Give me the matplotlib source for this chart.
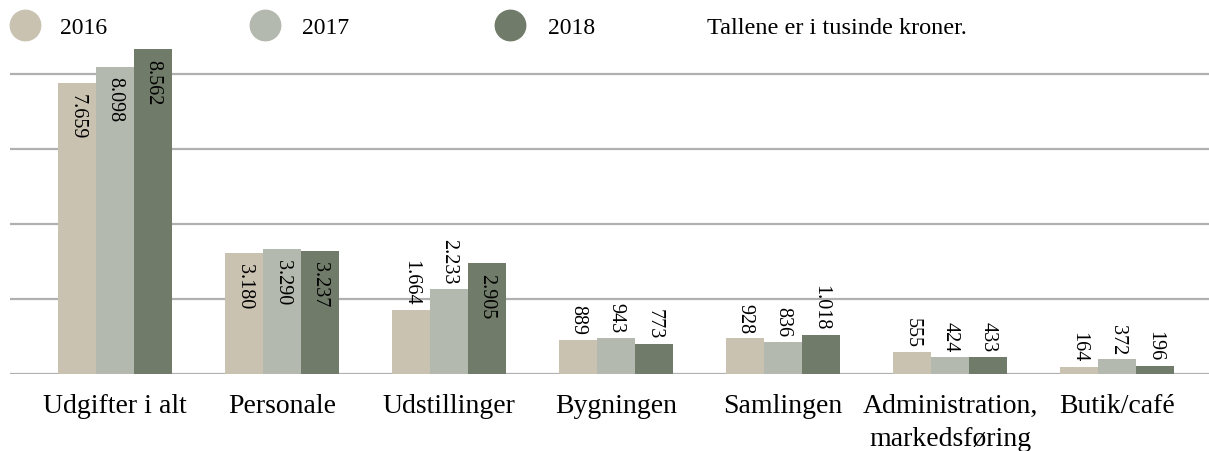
import matplotlib.pyplot as plt
import numpy as np

# data (tusinde kroner)
categories = ['Udgifter i alt', 'Personale', 'Udstillinger', 'Bygningen',
              'Samlingen', 'Administration,\nmarkedsføring', 'Butik/café']
years = ['2016', '2017', '2018']
v2016 = [7659, 3180, 1664, 889, 928, 555, 164]
v2017 = [8098, 3290, 2233, 943, 836, 424, 372]
v2018 = [8562, 3237, 2905, 773, 1018, 433, 196]
labels2016 = ['7.659', '3.180', '1.664', '889', '928', '555', '164']
labels2017 = ['8.098', '3.290', '2.233', '943', '836', '424', '372']
labels2018 = ['8.562', '3.237', '2.905', '773', '1.018', '433', '196']
note = 'Tallene er i tusinde kroner.'

# style
colors = ['#c9c2b1', '#b3b9ae', '#717b69']
grid_color = '#b0b0b0'
font = 'Liberation Serif'
W, H = 1209, 452

fig = plt.figure(figsize=(W / 100, H / 100), dpi=100)
ax = fig.add_axes([10 / W, (H - 374.5) / H, (W - 10) / W, (374.5 - 48) / H])

x = np.arange(len(categories))
bw = 0.2275
series = [v2016, v2017, v2018]
lab = [labels2016, labels2017, labels2018]
for i, (vals, ls) in enumerate(zip(series, lab)):
    xs = x + (i - 1) * bw
    ax.bar(xs, vals, width=bw, color=colors[i], zorder=3)
    for xx, v, t in zip(xs, vals, ls):
        if v > 2500:
            ax.annotate(t, (xx, v), xytext=(0, -7), textcoords='offset points',
                        rotation=-90, ha='center', va='top', fontsize=14.5,
                        family=font, zorder=4)
        else:
            ax.annotate(t, (xx, v), xytext=(0, 4), textcoords='offset points',
                        rotation=-90, ha='center', va='bottom', fontsize=14.5,
                        family=font, zorder=4)

ymax = 326.5 / 0.0379
step = 75 / 0.0379
ax.set_ylim(0, ymax)
ax.set_xlim(-105 / 167, 6 + 92 / 167)
for k in range(5):
    ax.axhline(k * step, color=grid_color, lw=1.6, zorder=1)

for s in ax.spines.values():
    s.set_visible(False)
ax.set_yticks([])
ax.set_xticks(x)
ax.set_xticklabels(categories, fontsize=20, family=font, linespacing=1.45)
ax.tick_params(axis='x', length=0, pad=14)

# legend
leg_cx = [25, 265, 510]
leg_tx = [60, 302, 548]
for cx, tx, c, yr in zip(leg_cx, leg_tx, colors, years):
    ax.scatter([cx / W], [1 - 26 / H], s=480, color=c,
               transform=fig.transFigure, clip_on=False, zorder=5)
    fig.text(tx / W, 1 - 28 / H, yr, fontsize=17, family=font, va='center')
fig.text(707 / W, 1 - 28 / H, note, fontsize=17.5, family=font, va='center')

fig.savefig('out.png', dpi=100)
